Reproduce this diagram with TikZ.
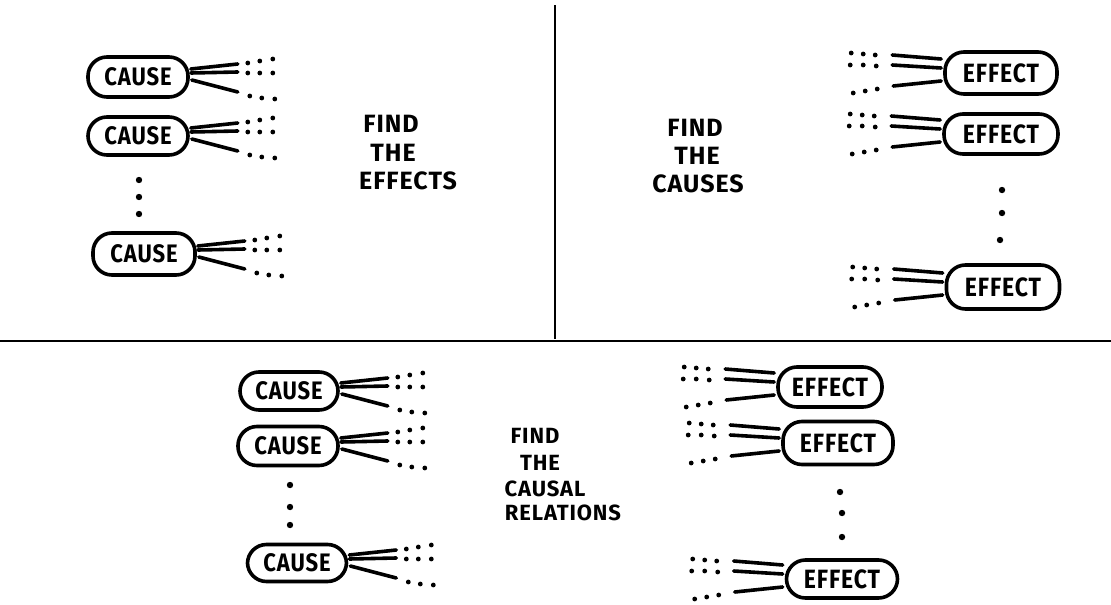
\documentclass[tikz,border=0pt]{standalone}
\usepackage{fontspec}
\newfontfamily\hand{Fira Sans}
\newfontfamily\handw{Fira Sans}[LetterSpace=4]
\newcommand\tallt[1]{\scalebox{1}[1.15]{#1}}
\tikzset{
  oval/.style={draw, line width=3.6pt, rounded corners=19pt, inner sep=0pt,
    font=\handw\bfseries\fontsize{22}{22}\selectfont},
  effoval/.style={oval, font=\handw\bfseries\fontsize{23}{23}\selectfont},
  ray/.style={line width=3.6pt, line cap=round},
  lbl/.style={font=\handw\bfseries\fontsize{25}{25}\selectfont, inner sep=0pt},
  lblsmall/.style={font=\handw\bfseries\fontsize{22}{22}\selectfont, inner sep=0pt},
  divider/.style={line width=2.5pt},
}
\newcommand\causefan[1]{%
  \foreach \a/\b/\c/\d in {1/-8/48/-13, 1/-4/48/-5, 2/3/48/15}
    \draw[ray] ([shift={(\a,\b)}]#1.east) -- ([shift={(\c,\d)}]#1.east);
  \foreach \a/\b in {58/-14,70/-16,83/-18,58/-4,70/-4,83/-4,60/19,72/21,85/22}
    \fill ([shift={(\a,\b)}]#1.east) circle (2.4pt);
}
\newcommand\effectfan[1]{%
  \foreach \a/\b/\c/\d in {-51/-18/-2/-14, -51/-8/-2/-5, -50/13/-2/8}
    \draw[ray] ([shift={(\a,\b)}]#1.west) -- ([shift={(\c,\d)}]#1.west);
  \foreach \a/\b in {-92/-20,-80/-19,-68/-18,-93/-8,-80/-8,-67/-7,-90/20,-78/18,-66/16}
    \fill ([shift={(\a,\b)}]#1.west) circle (2.4pt);
}
\begin{document}
\begin{tikzpicture}[x=1pt,y=-1pt]
\useasboundingbox (0,0) rectangle (1111,605);
% dividers
\draw[divider] (555,5) -- (555,339);
\draw[divider] (0,341) -- (1111,341);

% ---------- top left: find the effects
\node[oval, minimum width=100pt, minimum height=40pt] (tc1) at (138,77) {\tallt{CAUSE}};
\node[oval, minimum width=100pt, minimum height=38pt] (tc2) at (138,136) {\tallt{CAUSE}};
\node[oval, minimum width=102pt, minimum height=42pt] (tc3) at (144,254) {\tallt{CAUSE}};
\causefan{tc1}\causefan{tc2}\causefan{tc3}
\foreach \y in {180,197,214} \fill (139,\y) circle (3.2pt);
\node[lbl] (tl1) at (391,124) {FIND};
\node[lbl] (tl2) at (393,153) {THE};
\node[lbl] (tl3) at (408,181) {EFFECTS};

% ---------- top right: find the causes
\node[effoval, minimum width=112pt, minimum height=42pt] (te1) at (1001,73) {\tallt{EFFECT}};
\node[effoval, minimum width=114pt, minimum height=40pt] (te2) at (1001,134) {\tallt{EFFECT}};
\node[effoval, minimum width=113pt, minimum height=44pt] (te3) at (1003,287) {\tallt{EFFECT}};
\effectfan{te1}\effectfan{te2}\effectfan{te3}
\foreach \x/\y in {1002/190,1002/213,1000/240} \fill (\x,\y) circle (3.2pt);
\node[lbl] (tr1) at (695,128) {FIND};
\node[lbl] (tr2) at (697,156) {THE};
\node[lbl] (tr3) at (698,184) {CAUSES};

% ---------- bottom: find the causal relations
\node[oval, minimum width=98pt, minimum height=38pt] (bc1) at (289,391) {\tallt{CAUSE}};
\node[oval, minimum width=100pt, minimum height=39pt] (bc2) at (288,446) {\tallt{CAUSE}};
\node[oval, minimum width=99pt, minimum height=37pt] (bc3) at (297,563) {\tallt{CAUSE}};
\causefan{bc1}\causefan{bc2}\causefan{bc3}
\foreach \y in {485,507,525} \fill (290,\y) circle (3.2pt);

\node[effoval, minimum width=104pt, minimum height=40pt] (be1) at (830,387) {\tallt{EFFECT}};
\node[effoval, minimum width=110pt, minimum height=43pt] (be2) at (838,443) {\tallt{EFFECT}};
\node[effoval, minimum width=111pt, minimum height=38pt] (be3) at (842,579) {\tallt{EFFECT}};
\effectfan{be1}\effectfan{be2}\effectfan{be3}
\foreach \x/\y in {840/492,842/513,842/537} \fill (\x,\y) circle (3.2pt);

\node[lblsmall] (b1) at (535,436) {FIND};
\node[lblsmall] (b2) at (540,463) {THE};
\node[lblsmall] (b3) at (545,489) {CAUSAL};
\node[lblsmall] (b4) at (563,513) {RELATIONS};
\end{tikzpicture}
\end{document}
